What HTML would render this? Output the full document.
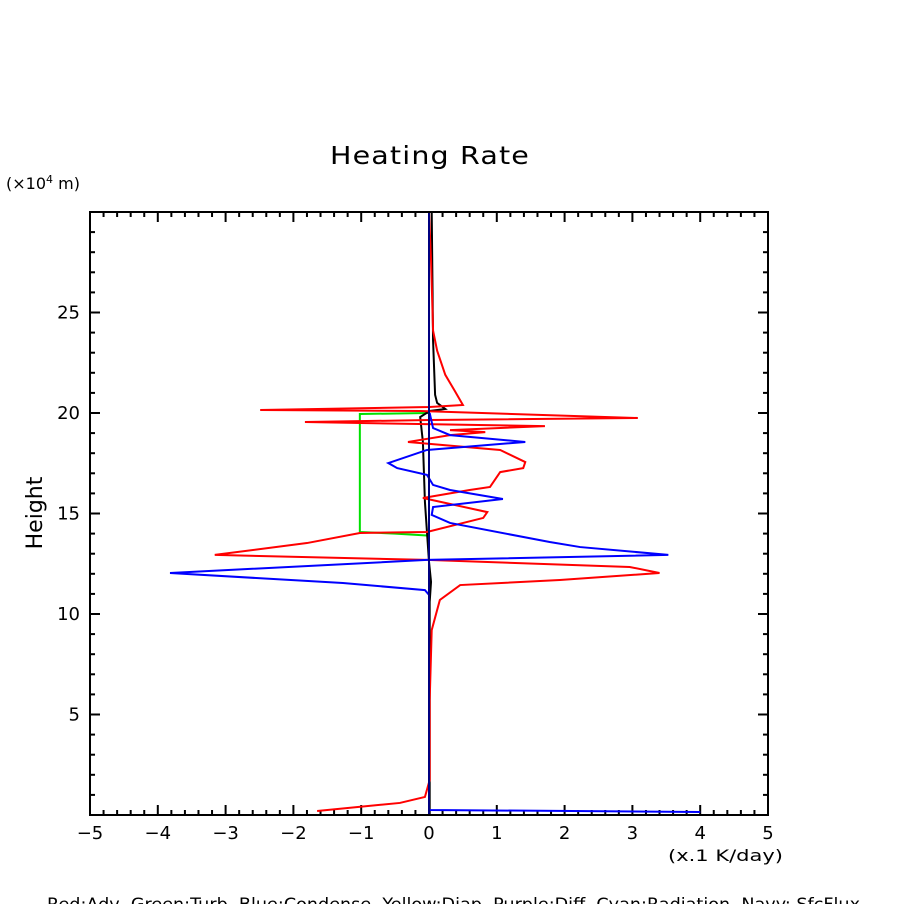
<!DOCTYPE html>
<html><head><meta charset="utf-8"><style>
body{margin:0;background:#fff;}
svg text{font-family:"DejaVu Sans","Liberation Sans",sans-serif;}
</style></head><body>
<svg id="chart" width="904" height="904" xmlns="http://www.w3.org/2000/svg">
<rect width="904" height="904" fill="#fff"/>
<text x="330" y="164" font-size="25" textLength="200" lengthAdjust="spacingAndGlyphs" letter-spacing="1">Heating Rate</text>
<text x="6" y="189" font-size="16">(×10<tspan dy="-6" font-size="11">4</tspan><tspan dy="6"> m)</tspan></text>
<text transform="translate(42,513) rotate(-90)" text-anchor="middle" font-size="22">Height</text>
<text x="668" y="861" font-size="16" textLength="115" lengthAdjust="spacingAndGlyphs">(x.1 K/day)</text>
<text x="47" y="910" font-size="17" textLength="813" lengthAdjust="spacingAndGlyphs">Red:Adv, Green:Turb, Blue:Condense, Yellow:Diap, Purple:Diff, Cyan:Radiation, Navy: SfcFlux</text>
<g id="ticks"></g>
<g id="series"></g>
<rect x="90" y="212" width="678" height="603" fill="none" stroke="#000" stroke-width="2"/>
</svg>
<script>
const xTicks=[-5,-4,-3,-2,-1,0,1,2,3,4,5];
const yTicks=[5,10,15,20,25];
const redX=[0,0.03,0.06,0.12,0.24,0.38,0.5,0.01,-2.49,-0.13,3.08,0.01,-1.83,1.71,0.31,0.83,0.31,-0.31,1.05,1.42,1.39,1.05,0.9,0.6,-0.09,0.86,0.8,-0.03,-1.02,-1.8,-3.16,-0.03,2.96,3.4,1.93,0.46,0.16,0.04,0.01,0.01,-0.06,-0.43,-1.65];
const redY=[30,27.6,24.1,23.1,21.9,21.1,20.4,20.3,20.15,20.1,19.75,19.65,19.55,19.35,19.15,19.05,18.9,18.56,18.16,17.56,17.26,17.06,16.32,16.17,15.77,15.07,14.78,14.08,14.03,13.53,12.94,12.69,12.34,12.04,11.69,11.44,10.7,9.2,5.7,1.74,0.9,0.6,0.2];
const blueX=[0.01,0.06,0.31,1.42,-0.03,-0.6,-0.47,-0.03,0.06,0.31,1.09,0.06,0.04,0.31,1.78,2.23,3.53,-0.03,-3.82,-1.27,-0.06,0,0,4.0];
const blueY=[20.0,19.25,18.9,18.56,18.16,17.51,17.26,16.92,16.42,16.17,15.72,15.32,14.93,14.53,13.58,13.33,12.94,12.69,12.04,11.54,11.19,10.95,0.25,0.15];
const greenX=[0,-1.02,-1.02,-0.5,0];
const greenY=[20.0,19.95,14.08,14.0,13.9];
const blackX=[0.04,0.06,0.09,0.12,0.24,0.01,-0.13,-0.09,-0.06,-0.03,0,0.03,0.01,0.01];
const blackY=[30,23.6,20.9,20.5,20.2,20.1,19.8,18.56,15.57,14.08,12.6,11.6,10.6,0];
const navyX=[0,0];
const navyY=[0,30];
const NS='http://www.w3.org/2000/svg';
const sx=v=>429+v*67.8;
const sy=v=>815-v*20.1;
const tg=document.getElementById('ticks');
function ln(x1,y1,x2,y2,w){const l=document.createElementNS(NS,'line');l.setAttribute('x1',x1);l.setAttribute('y1',y1);l.setAttribute('x2',x2);l.setAttribute('y2',y2);l.setAttribute('stroke','#000');l.setAttribute('stroke-width',w);


tg.appendChild(l);}
for(let i=-25;i<=25;i++){const v=i/5;const x=sx(v);const maj=i%5===0;const L=maj?10:5;ln(x,815,x,815-L,2);ln(x,212,x,212+L,2);}
for(let v=1;v<30;v++){const y=sy(v);const maj=v%5===0;const L=maj?10:5;ln(90,y,90+L,y,2);ln(768,y,768-L,y,2);}
xTicks.forEach(v=>{const t=document.createElementNS(NS,'text');t.setAttribute('x',sx(v));t.setAttribute('y',839);t.setAttribute('text-anchor','middle');t.setAttribute('font-size','18');t.textContent=(v<0?'\u2212'+(-v):v);


tg.appendChild(t);});
yTicks.forEach(v=>{const t=document.createElementNS(NS,'text');t.setAttribute('x',80);t.setAttribute('y',sy(v)+6);t.setAttribute('text-anchor','end');t.setAttribute('font-size','18');t.textContent=v;


tg.appendChild(t);});
const sg=document.getElementById('series');
function draw(xs,ys,c,name){const p=document.createElementNS(NS,'polyline');p.setAttribute('points',xs.map((x,i)=>sx(x)+','+sy(ys[i])).join(' '));p.setAttribute('fill','none');p.setAttribute('stroke',c);p.setAttribute('stroke-width','2');


sg.appendChild(p);}
draw(greenX,greenY,'#00e000','turb-line');
draw(blackX,blackY,'#000','total-line');
draw(redX,redY,'#ff0000','adv-line');
draw(blueX,blueY,'#0000ff','condense-line');
draw(navyX,navyY,'#000080','sfcflux-line');
</script>
</body></html>
